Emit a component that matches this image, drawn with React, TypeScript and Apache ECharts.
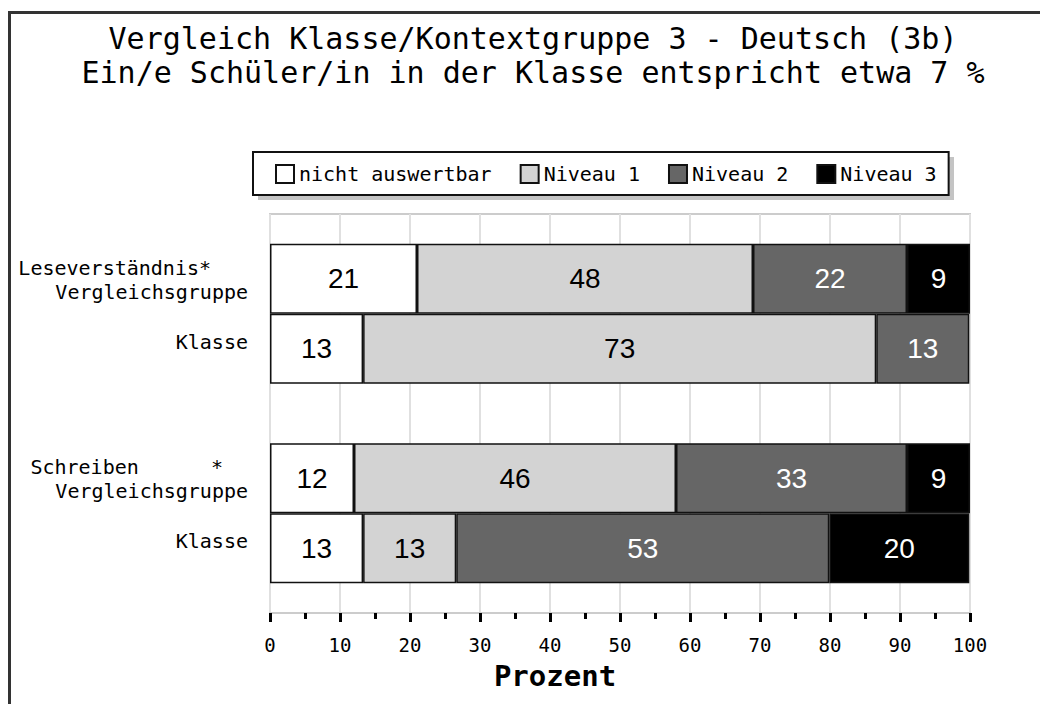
import React, { useEffect, useRef } from 'react';
import * as echarts from 'echarts';

const titleLines = [
  'Vergleich Klasse/Kontextgruppe 3 - Deutsch (3b)',
  'Ein/e Schüler/in in der Klasse entspricht etwa 7 %',
];
const groups = ['Leseverständnis', 'Schreiben'];
const groupLabels = ['Leseverständnis*', '\u00a0Schreiben\u00a0\u00a0\u00a0\u00a0\u00a0\u00a0*'];
const rowLabels = ['Vergleichsgruppe', 'Klasse'];
const levels = ['nicht auswertbar', 'Niveau 1', 'Niveau 2', 'Niveau 3'];
// order: [Lese Vergleichsgruppe, Lese Klasse, Schreiben Vergleichsgruppe, Schreiben Klasse]
const nichtAuswertbar = [21, 13.3, 12, 13.3];
const niveau1 = [48, 73.3, 46, 13.3];
const niveau2 = [22, 13.3, 33, 53.3];
const niveau3 = [9, 0, 9, 20];
const axisMin = 0;
const axisMax = 100;
const axisStep = 10;
const axisName = 'Prozent';

const levelValues = [nichtAuswertbar, niveau1, niveau2, niveau3];
const colors = ['#ffffff', '#d3d3d3', '#666666', '#000000'];
const labelColors = ['#000000', '#000000', '#ffffff', '#ffffff'];
const MONO = '"DejaVu Sans Mono", "Liberation Mono", monospace';

export default function App() {
  const ref = useRef<HTMLDivElement>(null);
  useEffect(() => {
    if (!ref.current) return;
    const chart = echarts.init(ref.current, undefined, { renderer: 'svg' });
    const series: any[] = [];
    rowLabels.forEach((row, r) => {
      levels.forEach((name, i) => {
        series.push({
          type: 'bar',
          name,
          stack: row,
          barWidth: 70,
          barGap: '0%',
          data: groups.map((g, gi) => {
            const v = levelValues[i][gi * 2 + r];
            return v > 0 ? v : null;
          }),
          itemStyle: { color: colors[i], borderColor: '#111', borderWidth: 1.5 },
          label: {
            show: true,
            position: 'inside',
            color: labelColors[i],
            fontFamily: '"Liberation Sans", Arial, sans-serif',
            fontSize: 28,
            formatter: (p: any) => (p.value > 0 ? String(Math.round(p.value)) : ''),
          },
        });
      });
    });
    chart.setOption({
      animation: false,
      backgroundColor: '#ffffff',
      title: {
        text: titleLines.join('\n'),
        left: 533,
        top: 21,
        padding: 0,
        textAlign: 'center',
        textStyle: { fontFamily: MONO, fontSize: 30, fontWeight: 'normal', color: '#000', lineHeight: 34 },
      },
      legend: {
        data: levels,
        left: 253,
        top: 152,
        padding: [12, 12, 11, 22],
        itemWidth: 18,
        itemHeight: 18,
        itemGap: 28,
        icon: 'rect',
        backgroundColor: '#ffffff',
        borderColor: '#111',
        borderWidth: 2,
        borderRadius: 0,
        textStyle: { fontFamily: MONO, fontSize: 20, color: '#000' },
      },
      graphic: [
        {
          type: 'rect',
          shape: { x: 258, y: 157, width: 696, height: 43 },
          style: { fill: '#c4c4c4' },
          z: 1,
        },
        {
          type: 'rect',
          shape: { x: 9.5, y: 12.5, width: 1200, height: 900 },
          style: { fill: 'none', stroke: '#333', lineWidth: 3 },
          z: 0,
        },
      ],
      grid: {
        left: 270,
        right: 70,
        top: 214,
        height: 399,
        show: true,
        borderColor: '#cccccc',
        borderWidth: 2,
      },
      xAxis: {
        type: 'value',
        min: axisMin,
        max: axisMax,
        interval: axisStep,
        name: axisName,
        nameLocation: 'middle',
        nameGap: 48,
        nameTextStyle: { fontFamily: MONO, fontSize: 29, fontWeight: 'bold', color: '#000', padding: [0, 130, 0, 0] },
        axisLine: { show: true, lineStyle: { color: '#cccccc', width: 2 } },
        axisTick: { show: true, length: 9, lineStyle: { color: '#000', width: 3 } },
        minorTick: { show: true, splitNumber: 2, length: 6, lineStyle: { color: '#000', width: 3 } },
        splitLine: { show: true, lineStyle: { color: '#e0e0e0', width: 2 } },
        axisLabel: { margin: 22, fontFamily: MONO, fontSize: 19, color: '#000' },
      },
      yAxis: {
        type: 'category',
        data: groups,
        inverse: true,
        axisLine: { show: false },
        axisTick: { show: false },
        splitLine: { show: false },
        axisLabel: {
          margin: 22,
          lineHeight: 24,
          fontFamily: MONO,
          fontSize: 20,
          color: '#000',
          formatter: (v: string, idx: number) =>
            `{a|${groupLabels[idx]}}\n{b|${rowLabels[0]}}\n{e| }\n{b|${rowLabels[1]}}\n{f| }`,
          rich: {
            a: { align: 'left', fontFamily: MONO, fontSize: 20, lineHeight: 24, color: '#000' },
            b: { align: 'right', fontFamily: MONO, fontSize: 20, lineHeight: 24, color: '#000', padding: [0, 0, 0, 37] },
            e: { fontFamily: MONO, fontSize: 20, lineHeight: 26 },
            f: { fontFamily: MONO, fontSize: 20, lineHeight: 18 },
          },
        },
      },
      series,
    });
    return () => chart.dispose();
  }, []);
  return <div ref={ref} style={{ position: 'absolute', left: 0, top: 0, width: 1040, height: 704 }} />;
}
